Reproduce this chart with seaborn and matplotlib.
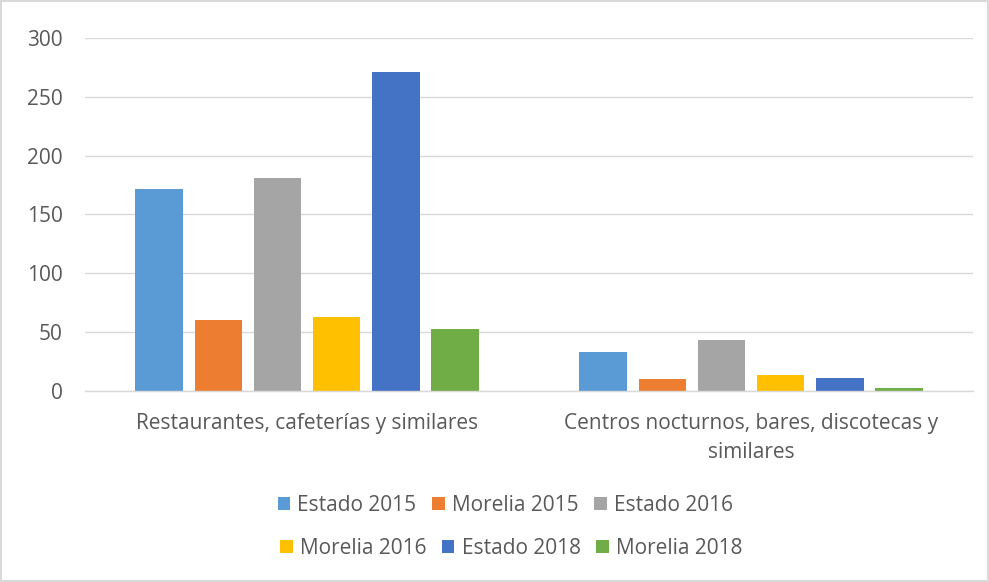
import pandas as pd
import matplotlib
matplotlib.use('Agg')
import matplotlib.pyplot as plt
import seaborn as sns
from matplotlib.patches import Patch

# Datos
categorias = ['Restaurantes, cafeterías y similares',
              'Centros nocturnos, bares, discotecas y\nsimilares']
series = ['Estado 2015', 'Morelia 2015', 'Estado 2016',
          'Morelia 2016', 'Estado 2018', 'Morelia 2018']
restaurantes = [172, 60, 181, 63, 271, 53]
centros = [33, 10, 43, 14, 11, 3]
colores = ['#5B9BD5', '#ED7D31', '#A5A5A5', '#FFC000', '#4472C4', '#70AD47']

df = pd.DataFrame({
    'categoria': [categorias[0]] * len(series) + [categorias[1]] * len(series),
    'serie': series + series,
    'valor': restaurantes + centros,
})

sns.set_style('white')
plt.rcParams['font.family'] = ['Open Sans', 'DejaVu Sans']
texto = '#595959'
fs = 15

fig = plt.figure(figsize=(9.89, 5.82), dpi=100)
fig.patch.set_edgecolor('#D9D9D9')
fig.patch.set_linewidth(1.5)
ax = fig.add_axes([0.086, 0.328, 0.898, 0.607])

sns.barplot(data=df, x='categoria', y='valor', hue='serie', hue_order=series,
            palette=colores, width=0.8, gap=0.2, ax=ax, legend=False,
            saturation=1, edgecolor='none')

ax.set_ylim(0, 300)
ax.set_yticks(range(0, 301, 50))
ax.yaxis.grid(True, color='#D9D9D9', linewidth=1)
ax.set_axisbelow(True)
for s in ['top', 'right', 'left']:
    ax.spines[s].set_visible(False)
ax.spines['bottom'].set_color('#D9D9D9')
ax.spines['bottom'].set_linewidth(1)
ax.tick_params(axis='both', length=0, labelsize=fs, colors=texto)
ax.tick_params(axis='y', pad=16)
ax.tick_params(axis='x', pad=16)
for lbl in ax.get_xticklabels():
    lbl.set_linespacing(1.45)
ax.set_xlabel('')
ax.set_ylabel('')

# Leyenda en dos filas centradas
h = [Patch(facecolor=c, edgecolor='none') for c in colores]
kw = dict(ncol=3, frameon=False, fontsize=fs, handlelength=0.6, handleheight=0.6,
          handletextpad=0.35, columnspacing=0.75, labelcolor=texto)
fig.legend(h[:3], series[:3], loc='center', bbox_to_anchor=(0.511, 0.132), **kw)
fig.legend(h[3:], series[3:], loc='center', bbox_to_anchor=(0.517, 0.058), **kw)

fig.savefig('out.png', dpi=100)
